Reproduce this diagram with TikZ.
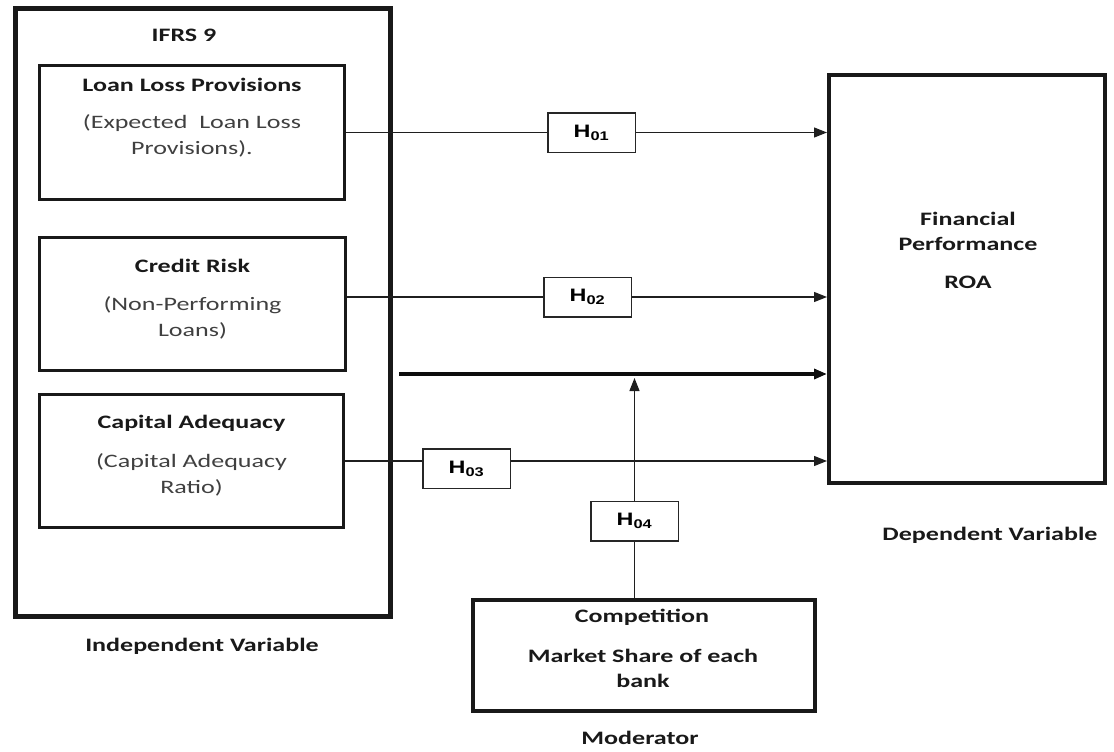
\documentclass[tikz,border=0pt]{standalone}
\usepackage{fontspec}
\setmainfont{Carlito}[FakeStretch=1.37]
\newfontfamily\hfont{Liberation Sans}[FakeStretch=1.3]
\usetikzlibrary{arrows.meta}
\tikzset{
    varbox/.style={draw=black!90, line width=3pt, inner sep=0pt},
    hyp/.style={draw=black!85, line width=1.5pt, minimum width=87.5, minimum height=39.5,
        inner sep=0pt, font=\hfont\bfseries\fontsize{18}{20}\selectfont},
    ttl/.style={font=\bfseries\fontsize{19}{25}\selectfont, text=black!90, inner sep=0pt},
    bodytxt/.style={font=\fontsize{19}{26}\selectfont, text=black!75, align=center, inner sep=0pt},
    link/.style={draw=black!88, line width=1.3pt},
    arr/.style={link, -{Triangle[length=13pt,width=10pt]}}
}

\begin{document}
\begin{tikzpicture}[x=1pt,y=-1pt]
    \useasboundingbox (0,0) rectangle (1114,752);

    % independent variables
    \node[varbox, line width=5pt, minimum width=375, minimum height=608] (iv) at (203,312.5) {};
    \node[ttl] (ifrs) at (184,35) {IFRS 9};
    \node[varbox, minimum width=305, minimum height=134] (llp) at (192,132.5) {};
    \node[ttl] (llpt) at (192,85) {Loan Loss Provisions};
    \node[bodytxt] (llpd) at (192,136) {(Expected\ \ Loan Loss\\Provisions).};
    \node[varbox, minimum width=306, minimum height=133] (crr) at (192.5,304) {};
    \node[ttl] (crrt) at (192.5,266) {Credit Risk};
    \node[bodytxt] (crrd) at (192.5,318) {(Non-Performing\\Loans)};
    \node[varbox, minimum width=304, minimum height=133] (cap) at (191.5,461) {};
    \node[ttl] (capt) at (191.5,423) {Capital Adequacy};
    \node[bodytxt] (capd) at (191.5,475) {(Capital Adequacy\\Ratio)};
    \node[ttl] (ivt) at (202,646) {Independent Variable};

    % dependent variable
    \node[varbox, line width=4pt, minimum width=276, minimum height=408] (fp) at (967,279) {};
    \node[ttl, align=center] (fpt) at (968,231) {Financial\\Performance};
    \node[ttl] (roa) at (968,282) {ROA};
    \node[ttl] (dvt) at (990,535) {Dependent Variable};

    % moderator
    \node[varbox, line width=4pt, minimum width=342, minimum height=111] (mod) at (644,655.5) {};
    \node[ttl] (comp) at (642,617) {Competition};
    \node[ttl, align=center] (mshare) at (643,668) {Market Share of each\\bank};
    \node[ttl] (modt) at (640,738) {Moderator};

    % hypotheses
    \node[hyp] (h01) at (591.5,132.5) {H\textsubscript{01}};
    \node[hyp] (h02) at (587.5,297) {H\textsubscript{02}};
    \node[hyp] (h03) at (466.5,468.5) {H\textsubscript{03}};
    \node[hyp] (h04) at (634.5,521) {H\textsubscript{04}};

    \draw[link] (llp.east) -- (h01.west);
    \draw[arr] (h01.east) -- (h01.east -| fp.west);
    \draw[link] (crr.east |- h02) -- (h02.west);
    \draw[arr] (h02.east) -- (h02.east -| fp.west);
    \draw[link] (cap.east) -- (cap.east -| h03.west);
    \draw[arr] (cap.east -| h03.east) -- (cap.east -| fp.west);

    \coordinate (mstart) at (399,374);
    \coordinate (mtip) at (634.5,378);
    \draw[arr, draw=black!95, line width=3.5pt] (mstart) -- (mstart -| fp.west);
    \draw[link] (mod.north -| h04) -- (h04.south);
    \draw[arr] (h04.north) -- (mtip);
\end{tikzpicture}
\end{document}
